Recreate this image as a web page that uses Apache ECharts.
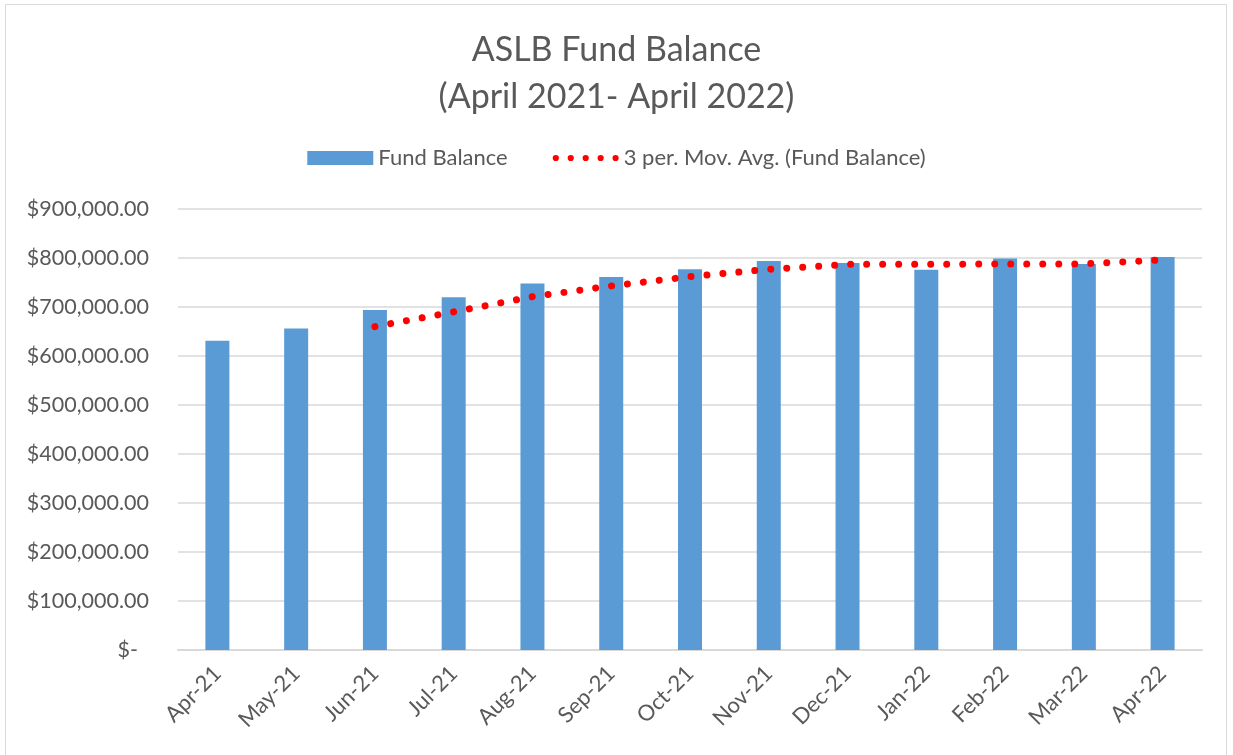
<!DOCTYPE html>
<html lang="en">
<head>
    <meta charset="UTF-8">
    <title>ASLB Fund Balance</title>
    <script src="https://cdn.jsdelivr.net/npm/echarts@6/dist/echarts.min.js"></script>
    <style>
        html, body {margin: 0; padding: 0; background: #fff;}
        #chart {width: 1233px; height: 755px;}
    </style>
</head>
<body>
<div id="chart"></div>
<script>
    // months on the x axis
    const months = ['Apr-21', 'May-21', 'Jun-21', 'Jul-21', 'Aug-21', 'Sep-21', 'Oct-21',
        'Nov-21', 'Dec-21', 'Jan-22', 'Feb-22', 'Mar-22', 'Apr-22'];
    // fund balance
    const fundBalance = [631000, 656000, 694000, 720000, 748000, 761000, 777000,
        794000, 790000, 776000, 799000, 788000, 802000];
    // 3 period moving average (starts at the 3rd month)
    const movAvg = [null, null, 660000, 690000, 721000, 743000, 762000,
        777000, 787000, 787000, 788000, 788000, 796000];

    const font = 'Lato, "Open Sans", sans-serif';
    const grey = '#595959';

    // legend icon: five dots in a row
    let dots = 'path://';
    for (let i = 0; i < 5; i++) {
        let cx = 1 + i * 4.8;
        dots += 'M' + (cx - 1) + ',1a1,1 0 1,0 2,0a1,1 0 1,0 -2,0z';
    }

    let myChart = echarts.init(document.getElementById('chart'));
    let myOption = {
        backgroundColor: '#fff',
        animation: false,
        textStyle: {fontFamily: font},
        graphic: [{
            type: 'rect',
            shape: {x: 5.5, y: 4.5, width: 1221, height: 760},
            style: {fill: 'none', stroke: '#d9d9d9', lineWidth: 1}
        }],
        title: {
            text: 'ASLB Fund Balance\n(April 2021- April 2022)',
            left: 'center',
            top: 22,
            textStyle: {fontFamily: font, fontSize: 34, fontWeight: 'normal', color: grey, lineHeight: 47}
        },
        legend: {
            top: 142,
            left: 'center',
            itemGap: 45,
            textStyle: {fontFamily: font, fontSize: 22, color: grey},
            data: [
                {name: 'Fund Balance', icon: 'rect', itemStyle: {color: '#5b9bd5'}},
                {name: '3 per. Mov. Avg. (Fund Balance)', icon: dots, itemStyle: {color: '#ff0000'}}
            ],
            itemWidth: 66,
            itemHeight: 14
        },
        grid: {left: 178, right: 31, top: 209, bottom: 105},
        xAxis: {
            type: 'category',
            data: months,
            axisTick: {show: false},
            axisLine: {lineStyle: {color: '#d9d9d9', width: 2}},
            axisLabel: {
                rotate: 45,
                fontSize: 22,
                color: grey,
                margin: 20,
                fontFamily: font
            }
        },
        yAxis: {
            type: 'value',
            min: 0,
            max: 900000,
            interval: 100000,
            axisLine: {show: false},
            axisTick: {show: false},
            splitLine: {lineStyle: {color: '#d9d9d9', width: 1.5}},
            axisLabel: {
                fontSize: 21.5,
                color: grey,
                margin: 29,
                fontFamily: font,
                formatter: function (v) {
                    if (v === 0) return '{z|$-}';
                    return '$' + v.toLocaleString('en-US') + '.00';
                },
                rich: {z: {fontSize: 21.5, color: grey, fontFamily: font, padding: [0, 11, 0, 0]}}
            }
        },
        series: [
            {
                name: 'Fund Balance',
                type: 'bar',
                data: fundBalance,
                barWidth: 24,
                itemStyle: {color: '#5b9bd5'}
            },
            {
                name: '3 per. Mov. Avg. (Fund Balance)',
                type: 'line',
                data: movAvg,
                showSymbol: false,
                symbol: 'none',
                lineStyle: {color: '#ff0000', width: 7, type: [0.01, 16], cap: 'round'},
                itemStyle: {color: '#ff0000'}
            }
        ]
    };
    myChart.setOption(myOption);
</script>
</body>
</html>
